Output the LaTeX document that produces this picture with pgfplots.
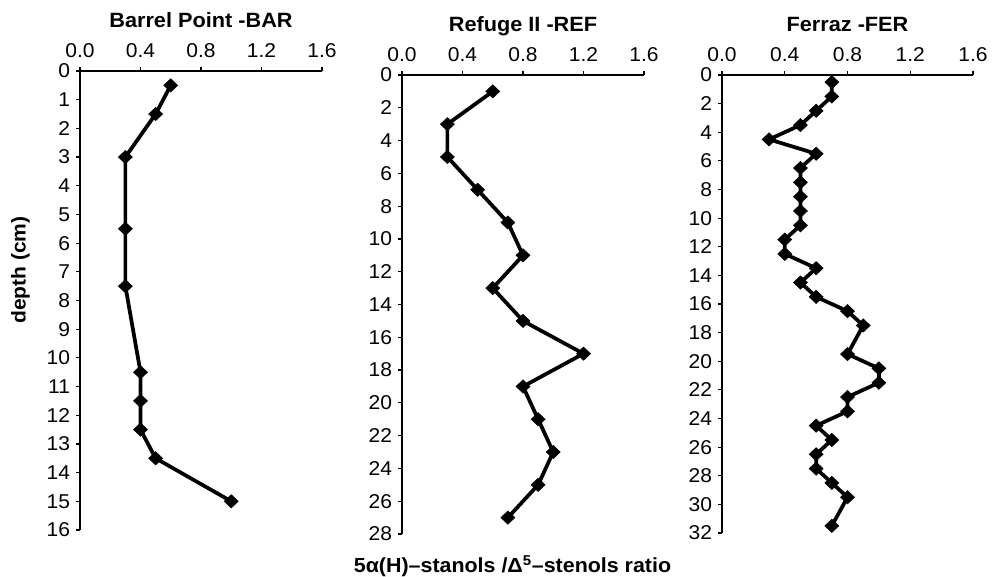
\documentclass[border=0pt]{standalone}
\usepackage{fontspec}
\setmainfont[FakeStretch=1.05]{Liberation Sans}
\usepackage{pgfplots}
\pgfplotsset{compat=1.18}

\pgfplotsset{
  core/.style={
    scale only axis,
    height=344.25pt,
    axis x line*=top,
    axis y line*=left,
    tick align=outside,
    major tick length=3pt,
    axis line style={line width=2pt, black},
    major tick style={line width=0.9pt, black},
    y dir=reverse,
    xmin=0, xmax=1.6,
    xtick={0,0.4,0.8,1.2,1.6},
    xticklabel style={yshift=3.5pt, /pgf/number format/.cd, fixed, fixed zerofill, precision=1},
    yticklabel style={xshift=-1pt},
    /pgf/number format/assume math mode=true,
    tick label style={font=\fontsize{15}{17}\selectfont},
    clip=false,
  },
  prof/.style={black, line width=2.8pt, mark=diamond*,
    mark size=5pt, mark options={solid, line width=0.4pt, xscale=1.4}},
}

\begin{document}
\begin{tikzpicture}
\useasboundingbox (-60pt,53.25pt) rectangle (688.5pt,-379.5pt);

\begin{axis}[core, width=181.5pt, at={(0pt,0pt)}, anchor=north west, name=a1,
  ymin=0, ymax=16, ytick={0,1,...,16}]
  \addplot[prof] coordinates {
    (0.6,0.5)(0.5,1.5)(0.3,3)(0.3,5.5)(0.3,7.5)(0.4,10.5)
    (0.4,11.5)(0.4,12.5)(0.5,13.5)(1.0,15)
  };
\end{axis}

\begin{axis}[core, width=181.5pt, at={(241.5pt,-3pt)}, anchor=north west, name=a2,
  ymin=0, ymax=28, ytick={0,2,...,28}]
  \addplot[prof] coordinates {
    (0.6,1)(0.3,3)(0.3,5)(0.5,7)(0.7,9)(0.8,11)(0.6,13)
    (0.8,15)(1.2,17)(0.8,19)(0.9,21)(1.0,23)(0.9,25)(0.7,27)
  };
\end{axis}

\begin{axis}[core, width=188.25pt, height=343.5pt, at={(481.5pt,-3pt)}, anchor=north west, name=a3,
  ymin=0, ymax=32, ytick={0,2,...,32}]
  \addplot[prof] coordinates {
    (0.7,0.5)(0.7,1.5)(0.6,2.5)(0.5,3.5)(0.3,4.5)(0.6,5.5)(0.5,6.5)
    (0.5,7.5)(0.5,8.5)(0.5,9.5)(0.5,10.5)(0.4,11.5)(0.4,12.5)(0.6,13.5)
    (0.5,14.5)(0.6,15.5)(0.8,16.5)(0.9,17.5)(0.8,19.5)(1.0,20.5)
    (1.0,21.5)(0.8,22.5)(0.8,23.5)(0.6,24.5)(0.7,25.5)(0.6,26.5)
    (0.6,27.5)(0.7,28.5)(0.8,29.5)(0.7,31.5)
  };
\end{axis}

\tikzset{ttl/.style={anchor=base, font=\fontsize{15.5}{18}\selectfont\bfseries, yshift=32.6pt}}
\node[ttl] at (a1.north) {Barrel Point -BAR};
\node[ttl] at (a2.north) {Refuge II -REF};
\node[ttl] at (a3.north) {Ferraz -FER};

\node[rotate=90, font=\fontsize{15}{18}\selectfont\bfseries] at (-44.6pt,-149.25pt) {depth (cm)};
\node[anchor=base, font=\fontsize{15.3}{18}\selectfont\bfseries] at (324.4pt,-375.75pt)
  {5α(H)–stanols /Δ\textsuperscript{5}–stenols ratio};
\end{tikzpicture}
\end{document}
